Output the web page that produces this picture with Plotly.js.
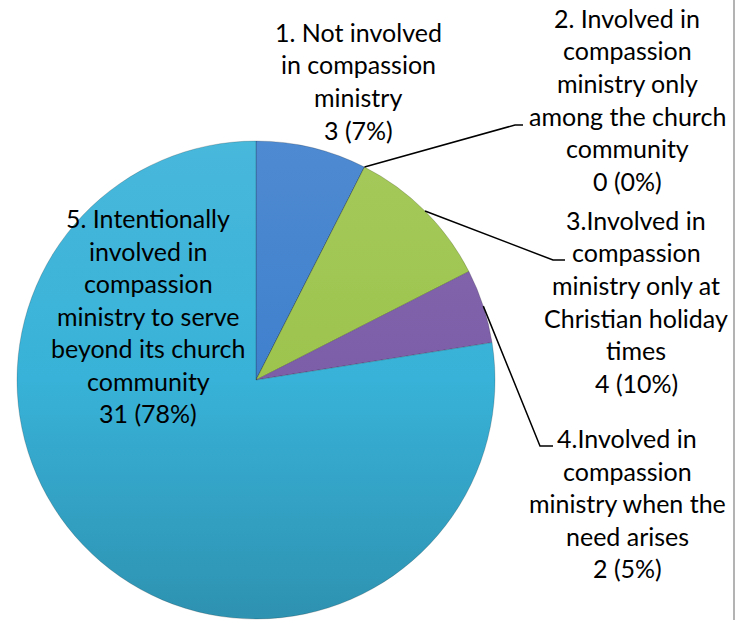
<!DOCTYPE html>
<html>
<head>
<meta charset="utf-8">
<script src="https://cdn.plot.ly/plotly-3.0.1.min.js"></script>
<style>
  html, body { margin: 0; padding: 0; background: #fff; overflow: hidden; }
  #chart { width: 741px; height: 620px; }
</style>
</head>
<body>
<div id="chart"></div>
<script>
// ---- data ----
const categoryLines = [
  ["1. Not involved", "in compassion", "ministry"],
  ["2. Involved in", "compassion", "ministry only", "among the church", "community"],
  ["3.Involved in", "compassion", "ministry only at", "Christian holiday", "times"],
  ["4.Involved in", "compassion", "ministry when the", "need arises"],
  ["5. Intentionally", "involved in", "compassion", "ministry to serve", "beyond its church", "community"]
];
const counts = [3, 0, 4, 2, 31];
const percentLabels = ["7%", "0%", "10%", "5%", "78%"];
const sliceColors = ["#3F80CD", "#9DC44D", "#7C5DA8", "#38B2D8"];

// ---- layout constants (pixels) ----
const W = 741, H = 620;
const cx = 256, cy = 380, R = 239;
const lineStep = 32.5;
const labelAnchors = [[358, 32], [627, 18], [636, 220], [627, 438], [148, 218]];
const leaderElbows = { 1: [[515, 125], [523, 125]], 2: [[553, 260], [565, 260]], 3: [[540, 446], [553, 446]] };
const FONT = "Lato, Carlito, Calibri, 'Noto Sans', sans-serif";

const px = x => x / W;
const py = y => 1 - y / H;

const colors = [sliceColors[0], "#E0E0E0", sliceColors[1], sliceColors[2], sliceColors[3]];

const trace = {
  type: "pie",
  values: counts,
  labels: categoryLines.map(l => l.join(" ")),
  sort: false,
  direction: "clockwise",
  rotation: 0,
  textinfo: "none",
  hoverinfo: "skip",
  showlegend: false,
  marker: { colors: colors, line: { color: "rgba(0,0,0,0.18)", width: 1 } },
  domain: { x: [px(cx - R), px(cx + R)], y: [py(cy + R), py(cy - R)] }
};

// annotations: one per text line
const annotations = [];
categoryLines.forEach((lines, i) => {
  const all = lines.concat([counts[i] + " (" + percentLabels[i] + ")"]);
  all.forEach((t, j) => {
    annotations.push({
      xref: "paper", yref: "paper",
      x: px(labelAnchors[i][0]), y: py(labelAnchors[i][1] + j * lineStep),
      xanchor: "center", yanchor: "middle",
      text: t, showarrow: false,
      font: { family: FONT, size: 25, color: "#000" }
    });
  });
});

// leader lines from slice edge (angles from data)
const total = counts.reduce((a, b) => a + b, 0);
const shapes = [];
let cum = 0;
const midAngles = counts.map(v => { const a = (cum + v / 2) / total * 2 * Math.PI; cum += v; return a; });
Object.keys(leaderElbows).forEach(k => {
  const i = +k;
  const a = midAngles[i];
  const sx = cx + R * Math.sin(a), sy = cy - R * Math.cos(a);
  const pts = [[sx, sy]].concat(leaderElbows[k]);
  const path = pts.map((p, n) => (n ? "L" : "M") + px(p[0]) + "," + py(p[1])).join(" ");
  shapes.push({ type: "path", xref: "paper", yref: "paper", path: path, line: { color: "#000", width: 1.5 } });
});
// right frame line
shapes.push({ type: "line", xref: "paper", yref: "paper", x0: px(734), x1: px(734), y0: 0, y1: 1, line: { color: "#9a9a9a", width: 1.5 } });

const layout = {
  width: W, height: H,
  margin: { l: 0, r: 0, t: 0, b: 0 },
  paper_bgcolor: "#fff",
  annotations: annotations,
  shapes: shapes
};

Plotly.newPlot("chart", [trace], layout, { displayModeBar: false, staticPlot: true }).then(gd => {
  // subtle vertical shading like the bevelled Excel pie
  const svg = gd.querySelector(".main-svg");
  const ns = "http://www.w3.org/2000/svg";
  let defs = svg.querySelector("defs");
  if (!defs) { defs = document.createElementNS(ns, "defs"); svg.insertBefore(defs, svg.firstChild); }
  const shade = (hex, f) => {
    const n = parseInt(hex.slice(1), 16);
    let r = n >> 16, g = (n >> 8) & 255, b = n & 255;
    const m = c => Math.max(0, Math.min(255, Math.round(f > 0 ? c + (255 - c) * f : c * (1 + f))));
    return "rgb(" + m(r) + "," + m(g) + "," + m(b) + ")";
  };
  gd.querySelectorAll(".slice path.surface").forEach((p, i) => {
    const base = colors[i];
    const id = "pg" + i;
    const lg = document.createElementNS(ns, "linearGradient");
    lg.setAttribute("id", id);
    lg.setAttribute("gradientUnits", "userSpaceOnUse");
    lg.setAttribute("x1", cx); lg.setAttribute("y1", cy - R);
    lg.setAttribute("x2", cx); lg.setAttribute("y2", cy + R);
    [[0, shade(base, 0.08)], [0.5, base], [1, shade(base, -0.18)]].forEach(s => {
      const st = document.createElementNS(ns, "stop");
      st.setAttribute("offset", s[0]);
      st.setAttribute("stop-color", s[1]);
      lg.appendChild(st);
    });
    defs.appendChild(lg);
    p.style.fill = "url(#" + id + ")";
  });
});
</script>
</body>
</html>
